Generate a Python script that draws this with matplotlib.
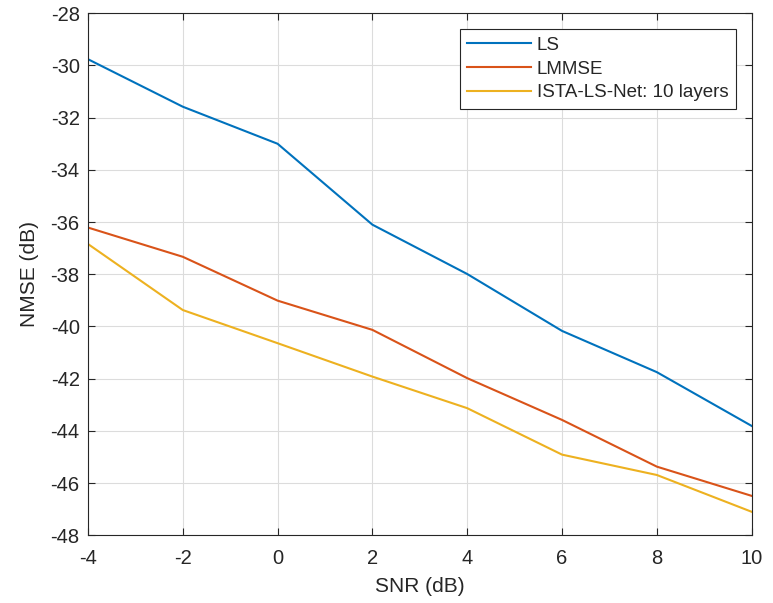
import matplotlib
matplotlib.use("Agg")
import matplotlib.pyplot as plt

snr = [-4, -2, 0, 2, 4, 6, 8, 10]
ls_nmse = [-29.76, -31.58, -33.0, -36.1, -37.99, -40.17, -41.75, -43.81]
lmmse_nmse = [-36.21, -37.33, -39.01, -40.13, -41.98, -43.58, -45.37, -46.49]
ista_nmse = [-36.84, -39.37, -40.64, -41.92, -43.13, -44.91, -45.69, -47.1]
labels = ["LS", "LMMSE", "ISTA-LS-Net: 10 layers"]
yticks = list(range(-48, -27, 2))
xticks = list(range(-4, 11, 2))

plt.rcParams['font.family'] = ['Liberation Sans', 'DejaVu Sans']
plt.rcParams['axes.unicode_minus'] = False
fig = plt.figure(figsize=(7.73, 6.03), dpi=100)
ax = fig.add_axes([0.1138, 0.1123, 0.9724 - 0.1138, 0.978 - 0.1123])
ax.plot(snr, ls_nmse, color='#0072BD', lw=1.5, label=labels[0])
ax.plot(snr, lmmse_nmse, color='#D95319', lw=1.5, label=labels[1])
ax.plot(snr, ista_nmse, color='#EDB120', lw=1.5, label=labels[2])
ax.set_xlim(-4, 10)
ax.set_ylim(-48, -28)
ax.set_xticks(xticks)
ax.set_yticks(yticks)
ax.grid(True, color='#dcdcdc', lw=0.8)
ax.set_axisbelow(True)
ax.tick_params(direction='in', top=True, right=True, labelsize=14.5, colors='#262626', length=5)
ax.tick_params(axis='x', pad=10)
ax.tick_params(axis='y', pad=6)
for s in ax.spines.values():
    s.set_color('#262626')
    s.set_linewidth(0.8)
ax.set_xlabel('SNR (dB)', fontsize=15, color='#262626', labelpad=6)
ax.set_ylabel('NMSE (dB)', fontsize=15, color='#262626', labelpad=8)
leg = ax.legend(loc='upper right', fontsize=13.5, fancybox=False, framealpha=1,
                edgecolor='#262626', borderaxespad=0.85, handlelength=3.4,
                handletextpad=0.3, labelspacing=0.35, borderpad=0.4)
for t in leg.get_texts():
    t.set_color('#262626')
leg.get_frame().set_linewidth(0.8)
fig.savefig('out.png', dpi=100)
